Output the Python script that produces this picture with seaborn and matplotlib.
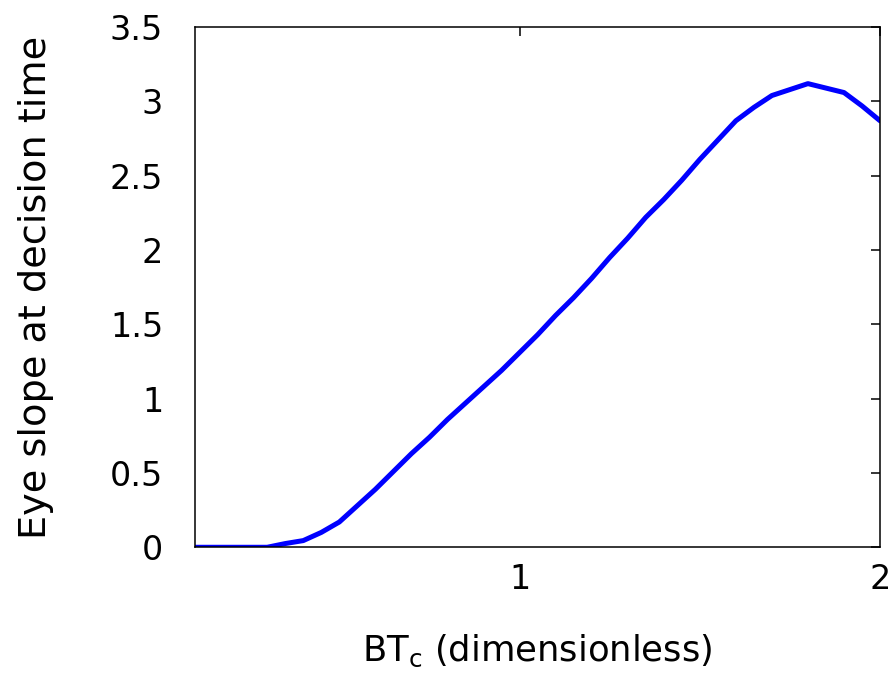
import numpy as np
import pandas as pd
import matplotlib
matplotlib.use('Agg')
import matplotlib.pyplot as plt
import seaborn as sns

# values
btc = [0.10, 0.15, 0.20, 0.25, 0.30, 0.35, 0.40, 0.45, 0.50, 0.55,
       0.60, 0.65, 0.70, 0.75, 0.80, 0.85, 0.90, 0.95, 1.00, 1.05,
       1.10, 1.15, 1.20, 1.25, 1.30, 1.35, 1.40, 1.45, 1.50, 1.55,
       1.60, 1.65, 1.70, 1.75, 1.80, 1.85, 1.90, 1.95, 2.00]
slope = [0.0, 0.0, 0.0, 0.0, 0.0, 0.025, 0.045, 0.10, 0.17, 0.28,
         0.39, 0.51, 0.63, 0.74, 0.86, 0.97, 1.08, 1.19, 1.31, 1.43,
         1.56, 1.68, 1.81, 1.95, 2.08, 2.22, 2.34, 2.47, 2.61, 2.74,
         2.87, 2.96, 3.04, 3.08, 3.12, 3.09, 3.06, 2.97, 2.87]
xticks = [1, 2]
yticks = [0, 0.5, 1, 1.5, 2, 2.5, 3, 3.5]
ytick_labels = ['0', '0.5', '1', '1.5', '2', '2.5', '3', '3.5']

data = pd.DataFrame({'BTc': btc, 'slope': slope})

sns.set_style('white')
plt.rcParams['font.family'] = ['DejaVu Sans']
plt.rcParams['text.color'] = 'black'
plt.rcParams['axes.labelcolor'] = 'black'

fig = plt.figure(figsize=(8.91, 6.79), dpi=100)
ax = fig.add_axes([0.219, 0.194, 0.7687, 0.766])
sns.lineplot(x='BTc', y='slope', data=data, color='#0000ff', linewidth=3.6, ax=ax)

ax.set_xlim(0.1, 2)
ax.set_ylim(0, 3.5)
ax.set_xticks(xticks)
ax.set_xticklabels([str(t) for t in xticks])
ax.set_yticks(yticks)
ax.set_yticklabels(ytick_labels)
ax.tick_params(axis='both', direction='in', length=6.5, width=1.1, colors='black',
               labelsize=24, top=True, right=True)
ax.tick_params(axis='y', pad=23)
ax.tick_params(axis='x', pad=11)
for s in ax.spines.values():
    s.set_color('black')
    s.set_linewidth(1.1)

ax.set_xlabel('BT$_{\\mathregular{c}}$ (dimensionless)', fontsize=25.5, labelpad=27)
ax.set_ylabel('Eye slope at decision time', fontsize=27.5, labelpad=40)

fig.savefig('out.png', dpi=100)
